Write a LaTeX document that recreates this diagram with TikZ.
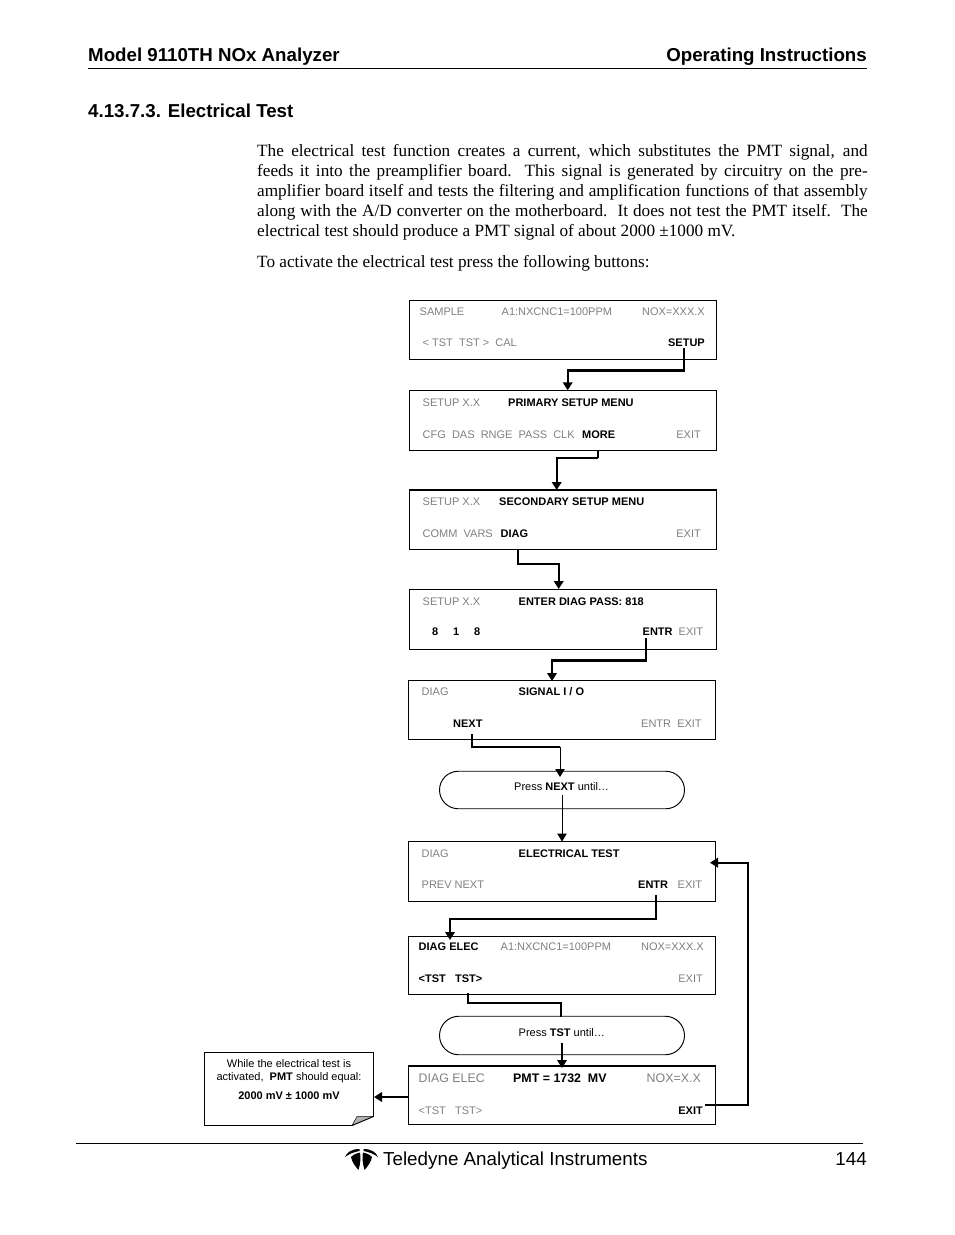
\documentclass[tikz,border=0pt]{standalone}
\usepackage{fontspec}
\setmainfont{Liberation Sans}
\newfontfamily\serifr{Liberation Serif}
\usetikzlibrary{arrows.meta,shapes.misc}
\definecolor{gtxt}{gray}{0.5}
\tikzset{
 x=1pt,y=-1pt,
 scr/.style={draw=black,line width=0.95pt,inner sep=0pt,outer sep=0pt,minimum width=307.5pt,anchor=north west},
 lab/.style={inner sep=0pt,anchor=base west,yshift=-0.9pt,font=\fontsize{11}{12}\selectfont},
 gl/.style={lab,text=gtxt},
 bl/.style={lab,font=\fontsize{11}{12}\selectfont\bfseries},
 gbig/.style={gl,font=\fontsize{12.4}{14}\selectfont},
 pt/.style={inner sep=0pt,anchor=base west,yshift=-0.9pt,font=\fontsize{18.7}{21}\selectfont\bfseries},
 bodyl/.style={inner sep=0pt,anchor=base west,yshift=-0.9pt,font=\serifr\fontsize{17.2}{20}\selectfont},
 ftxt/.style={inner sep=0pt,anchor=base west,font=\fontsize{18.8}{21}\selectfont},
 conn/.style={line width=2.3pt,-{Triangle[length=8pt,width=9.5pt]}},
 connt/.style={line width=1pt,-{Triangle[length=8pt,width=9.5pt]}},
 plain/.style={line width=2.3pt},
 pill/.style={draw=black,line width=0.95pt,rounded rectangle,inner sep=0pt,outer sep=0pt},
}
\begin{document}
\begin{tikzpicture}
\useasboundingbox (0,0) rectangle (954,1235);
\fill[white] (0,0) rectangle (954,1235);
% header
\node[pt] (h1) at (88,60.5) {Model 9110TH NOx Analyzer};
\node[pt,anchor=base east] (h2) at (867,60.5) {Operating Instructions};
\coordinate (r1a) at (88,68.5); \coordinate (r1b) at (867,68.5);
\draw[line width=0.9pt] (r1a) -- (r1b);
\node[pt] (sec) at (88,116.5) {4.13.7.3. Electrical Test};
% body
\node[bodyl] (b1) at (257,155.5) {\hbox to 610.5pt{The electrical test function creates a current, which substitutes the PMT signal, and}};
\node[bodyl] (b2) at (257,175.5) {\hbox to 610.5pt{feeds it into the preamplifier board.\ \ This signal is generated by circuitry on the pre-}};
\node[bodyl] (b3) at (257,195.5) {\hbox to 610.5pt{amplifier board itself and tests the filtering and amplification functions of that assembly}};
\node[bodyl] (b4) at (257,215.5) {\hbox to 610.5pt{along with the A/D converter on the motherboard.\ \ It does not test the PMT itself.\ \ The}};
\node[bodyl] (b5) at (257,235.5) {electrical test should produce a PMT signal of about 2000 ±1000 mV.};
\node[bodyl] (b6) at (257,266.5) {To activate the electrical test press the following buttons:};
% screens
\node[scr,minimum height=59pt] (s1) at (409.3,300.3) {};
\node[scr,minimum height=60pt] (s2) at (409.3,390.3) {};
\node[scr,minimum height=59.5pt] (s3) at (409.3,490) {};
\draw[line width=1.6pt] (s3.north west) -- (s3.north east);
\node[scr,minimum height=60pt] (s4) at (409.3,589.5) {};
\node[scr,minimum height=59pt] (s5) at (408.3,680.5) {};
\node[scr,minimum height=60pt] (s6) at (408.3,841.5) {};
\node[scr,minimum height=58pt] (s7) at (408.3,936.5) {};
\node[scr,minimum height=58.5pt] (s8) at (408.3,1066) {};
\draw[line width=1.6pt] (s8.north west) -- (s8.north east);
% s1
\node[gl] (t1a) at (419.5,314.5) {SAMPLE};
\node[gl] (t1b) at (501.5,314.5) {A1:NXCNC1=100PPM};
\node[gl,anchor=base east] (t1c) at (705,314.5) {NOX=XXX.X};
\node[gl] (t1d) at (422.5,345.5) {< TST\ \ TST >\ \ CAL};
\node[bl,anchor=base east] (t1e) at (705,345.5) {SETUP};
% s2
\node[gl] (t2a) at (422.5,405.5) {SETUP X.X};
\node[bl] (t2b) at (508,405.5) {PRIMARY SETUP MENU};
\node[gl] (t2c) at (422.5,437.5) {CFG\ \ DAS\ \ RNGE\ \ PASS\ \ CLK};
\node[bl] (t2d) at (582,437.5) {MORE};
\node[gl,anchor=base east] (t2e) at (701,437.5) {EXIT};
% s3
\node[gl] (t3a) at (422.5,504.5) {SETUP X.X};
\node[bl] (t3b) at (499,504.5) {SECONDARY SETUP MENU};
\node[gl] (t3c) at (422.5,536.5) {COMM\ \ VARS};
\node[bl] (t3d) at (500.5,536.5) {DIAG};
\node[gl,anchor=base east] (t3e) at (701,536.5) {EXIT};
% s4
\node[gl] (t4a) at (422.5,604.5) {SETUP X.X};
\node[bl] (t4b) at (518.5,604.5) {ENTER DIAG PASS: 818};
\node[bl] (t4c) at (432,634.5) {8};
\node[bl] (t4d) at (453,634.5) {1};
\node[bl] (t4e) at (474,634.5) {8};
\node[bl] (t4f) at (642.5,634.5) {ENTR};
\node[gl] (t4g) at (678.5,634.5) {EXIT};
% s5
\node[gl] (t5a) at (421.5,694.5) {DIAG};
\node[bl] (t5b) at (518.5,694.5) {SIGNAL I / O};
\node[bl] (t5c) at (453,726.5) {NEXT};
\node[gl] (t5d) at (641,726.5) {ENTR\ \ EXIT};
% pill 1
\node[pill,minimum width=245pt,minimum height=37.5pt] (p1) at (562,790) {};
\node[lab] (tp1) at (514,789.5) {Press \textbf{NEXT} until…};
% s6
\node[gl] (t6a) at (421.5,856.5) {DIAG};
\node[bl] (t6b) at (518.5,856.5) {ELECTRICAL TEST};
\node[gl] (t6c) at (421.5,887.5) {PREV NEXT};
\node[bl] (t6d) at (638,887.5) {ENTR};
\node[gl] (t6e) at (677.5,887.5) {EXIT};
% s7
\node[bl] (t7a) at (418.5,949.5) {DIAG ELEC};
\node[gl] (t7b) at (500.5,949.5) {A1:NXCNC1=100PPM};
\node[gl,anchor=base east] (t7c) at (704,949.5) {NOX=XXX.X};
\node[bl] (t7d) at (418.5,981.5) {<TST\ \ \ TST>};
\node[gl,anchor=base east] (t7e) at (703,981.5) {EXIT};
% pill 2
\node[pill,minimum width=245pt,minimum height=38.5pt] (p2) at (562,1035.5) {};
\node[lab] (tp2) at (518.5,1035.5) {Press \textbf{TST} until…};
% s8
\node[gbig] (t8a) at (418.5,1081.5) {DIAG ELEC};
\node[bl,font=\fontsize{12.4}{14}\selectfont\bfseries] (t8b) at (513,1081.5) {PMT = 1732\ \ MV};
\node[gbig,anchor=base east] (t8c) at (701,1081.5) {NOX=X.X};
\node[gl] (t8d) at (418.5,1113.5) {<TST\ \ \ TST>};
\node[bl,anchor=base east] (t8e) at (703,1113.5) {EXIT};
% note
\coordinate (na) at (204.5,1052.5); \coordinate (nb) at (373.5,1052.5);
\coordinate (nc) at (373.5,1116.5); \coordinate (nd) at (352,1125.5); \coordinate (ne) at (204.5,1125.5);
\coordinate (nf) at (357,1116.5);
\fill[white] (na) -- (nb) -- (nc) -- (nd) -- (ne) -- cycle;
\fill[gray!60] (nd) -- (nf) -- (nc) -- cycle;
\draw[line width=0.95pt,line join=round] (na) -- (nb) -- (nc) -- (nd) -- (ne) -- cycle;
\draw[line width=0.5pt] (nd) -- (nf) -- (nc);
\node[inner sep=0pt,align=center,font=\fontsize{11}{12.3}\selectfont] (nt1) at (289,1071) {While the electrical test is\\activated,\ \ \textbf{PMT} should equal:};
\node[inner sep=0pt,font=\fontsize{11}{12}\selectfont\bfseries] (nt2) at (289,1095.8) {2000 mV ± 1000 mV};
% connectors
\coordinate (c1a) at (684.3,348);
\coordinate (c1b) at (567.7,390.3);
\draw[conn] (c1a) -- (684.3,370.5) -- (567.7,370.5) -- (c1b);
\coordinate (c2a) at (598,451);
\coordinate (c2b) at (556.7,490);
\draw[line width=1.2pt] (c2a) -- (598,458);
\draw[conn] (598,458) -- (556.7,458) -- (c2b);
\coordinate (c3a) at (518,549.5);
\coordinate (c3b) at (558.7,589);
\draw[conn] (c3a) -- (518,564) -- (558.7,564) -- (c3b);
\coordinate (c4a) at (646,638);
\coordinate (c4b) at (552,681);
\draw[conn] (c4a) -- (646,660.5) -- (552,660.5) -- (c4b);
\coordinate (c5a) at (472,734);
\coordinate (c5c) at (560,747);
\coordinate (c5b) at (560,777);
\draw[plain] (c5a) -- (472,747) -- (c5c);
\draw[connt] (c5c) -- (c5b);
\coordinate (c6a) at (562,795);
\coordinate (c6b) at (562,841.5);
\draw[connt] (c6a) -- (c6b);
\coordinate (c7a) at (656,895);
\coordinate (c7b) at (450,940);
\draw[conn] (c7a) -- (656,919) -- (450,919) -- (c7b);
\coordinate (c8a) at (468,993);
\coordinate (c8b) at (561.3,1016.5);
\draw[plain] (c8a) -- (468,1003) -- (561.3,1003) -- (c8b);
\coordinate (c9a) at (562,1043);
\coordinate (c9b) at (562,1068);
\draw[conn] (c9a) -- (c9b);
\coordinate (c10a) at (408.3,1097);
\coordinate (c10b) at (374,1097);
\draw[conn] (c10a) -- (c10b);
\coordinate (c11a) at (705,1105);
\coordinate (c11b) at (710,862.7);
\draw[conn] (c11a) -- (747.7,1105) -- (747.7,862.7) -- (c11b);
% footer
\coordinate (r2a) at (76,1143); \coordinate (r2b) at (863,1143);
\draw[line width=0.9pt] (r2a) -- (r2b);
% logo
\fill[black] (345,1157) .. controls (347,1152) and (352,1149) .. (359.5,1149) -- (359.5,1151) .. controls (354,1152) and (349,1154) .. (345,1157) -- cycle;
\fill[black] (351,1157) .. controls (354,1154) and (357,1153) .. (360,1152.5) .. controls (361,1157) and (360.5,1163) .. (358.5,1170) .. controls (355,1166) and (352,1162) .. (351,1157) -- cycle;
\fill[black] (378,1157) .. controls (376,1152) and (371,1149) .. (363.5,1149) -- (363.5,1151) .. controls (369,1152) and (374,1154) .. (378,1157) -- cycle;
\fill[black] (372,1157) .. controls (369,1154) and (366,1153) .. (363,1152.5) .. controls (362,1157) and (362.5,1163) .. (364.5,1170) .. controls (368,1166) and (371,1162) .. (372,1157) -- cycle;
\node[ftxt] (f1) at (383,1165) {Teledyne Analytical Instruments};
\node[ftxt,anchor=base east] (f2) at (867,1165) {144};
\end{tikzpicture}
\end{document}
